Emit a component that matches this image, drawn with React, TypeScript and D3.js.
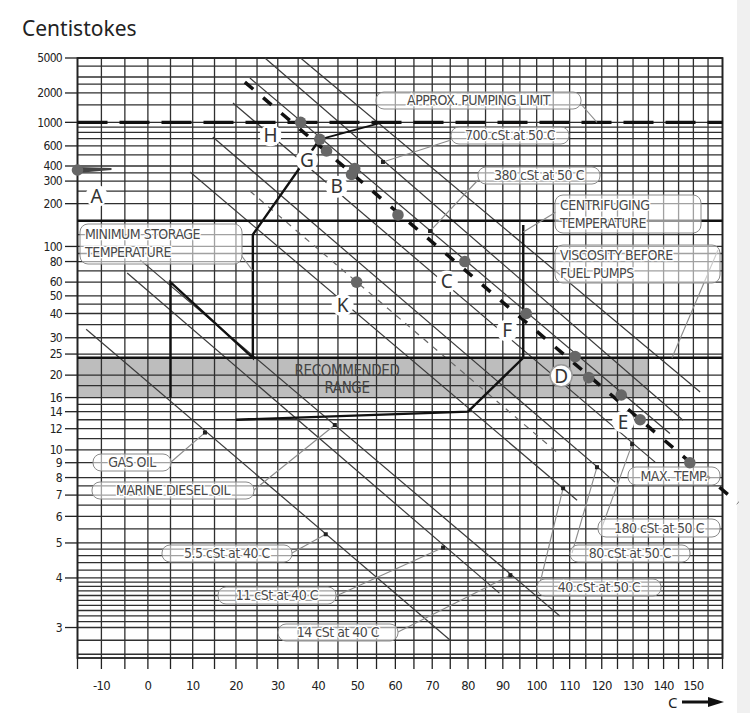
import React, { useRef, useEffect } from "react";
import * as d3 from "d3";

// axis labels
const yTickLabels = [5000, 2000, 1000, 600, 400, 300, 200, 100, 80, 60, 50, 40, 30, 25, 20, 16, 14, 12, 10, 9, 8, 7, 6, 5, 4, 3];
const xTickLabels = [-10, 0, 10, 20, 30, 40, 50, 60, 70, 80, 90, 100, 110, 120, 130, 140, 150];

// grid values (cSt / deg C)
const yGridValues = [
  5000, 4000, 3000, 2500, 2000, 1500, 1000, 900, 800, 700, 600, 500, 400, 350, 300, 250, 200, 150, 120, 100, 90, 80, 70, 60,
  50, 45, 40, 35, 30, 25, 20, 18, 16, 15, 14, 13, 12, 11, 10, 9, 8, 7.5, 7, 6.5, 6, 5.5, 5, 4.8, 4.6, 4.4, 4.2, 4, 3.9, 3.8,
  3.7, 3.6, 3.5, 3.4, 3.3, 3.2, 3.1, 3, 2.8, 2.6,
];
const xGridValues = d3.range(-15, 161, 5);

// fuel reference lines, start / end (T, cSt)
const fuelStartT = [-13.2, -4.5, -1.7, 9.4, 14.6, 19.3, 23.3, 26.9, 35.6];
const fuelStartV = [33.1, 68, 82, 356, 724, 1566, 2920, 5000, 5000];
const fuelEndT = [75, 89, 107, 112.3, 124.2, 137.2, 142.1, 146.5, 152.3];
const fuelEndV = [2.8, 3.65, 3.2, 6.74, 7.72, 9.04, 11.5, 12.95, 16.9];

// line through K
const kLineT = [23.3, 107];
const kLineV = [250, 9.6];

// heavy fuel path (dashed)
const hfoT = [22.1, 165.4];
const hfoV = [2630, 6.6];

// thick process lines
const storageT = [5, 5, 24, 24, 40.4];
const storageV = [16, 60, 24, 120, 690];
const pumpJoinT = [40.4, 56.6];
const pumpJoinV = [690, 1000];
const heatingT = [20, 80, 96, 96];
const heatingV = [13, 14, 24, 140];

const pumpingLimit = 1000;
const centrifugeLevel = 150;
const rangeTop = 24;
const rangeBottom = 16;
const rangeEndT = 135;

// marked points
const pointT = [-15, 35.6, 40.4, 42.1, 49.3, 48.5, 60.7, 79.1, 49.8, 96.9, 111.7, 115.9, 126.2, 132.3, 148.8];
const pointV = [370, 1000, 690, 540, 380, 340, 165, 80, 60, 40, 24.3, 19.5, 16.4, 13, 9];
const pointLetters = ["A", "H", "G", "", "B", "", "", "C", "K", "F", "D", "", "", "E", ""];

// annotation leader targets
const leaderT = [118.5, 56.7, 69.4, 96, 142.8, 24, 12.8, 44.2, 41.9, 73, 92.2, 108, 118.5, 129.7];
const leaderV = [1000, 433, 127, 125, 24, 70, 11.6, 12.4, 5.3, 4.85, 4.07, 7.37, 8.68, 10.5];
const leaderDot = [false, true, true, false, false, false, true, true, true, true, true, true, true, true];

const annotations = [
  { lines: ["APPROX. PUMPING LIMIT"], box: [376, 92, 205, 17], from: [580, 103] },
  { lines: ["700 cSt at 50  C"], box: [451, 127, 118, 17], from: [451, 140] },
  { lines: ["380 cSt at 50  C"], box: [478, 167, 122, 17], from: [478, 180] },
  { lines: ["CENTRIFUGING", "TEMPERATURE"], box: [555, 195, 146, 38], from: [556, 212] },
  { lines: ["VISCOSITY BEFORE", "FUEL PUMPS"], box: [555, 245, 165, 38], from: [718, 250] },
  { lines: ["MINIMUM STORAGE", "TEMPERATURE"], box: [80, 224, 162, 40], from: [241, 255] },
  { lines: ["GAS OIL"], box: [93, 454, 78, 17], from: [171, 462] },
  { lines: ["MARINE DIESEL OIL"], box: [92, 482, 162, 17], from: [254, 490] },
  { lines: ["5.5 cSt at 40  C"], box: [162, 545, 130, 17], from: [292, 553] },
  { lines: ["11 cSt at 40  C"], box: [218, 587, 118, 17], from: [336, 596] },
  { lines: ["14 cSt at 40  C"], box: [278, 624, 120, 17], from: [398, 632] },
  { lines: ["40 cSt at 50  C"], box: [537, 579, 124, 17], from: [540, 583] },
  { lines: ["80 cSt at 50  C"], box: [570, 545, 120, 17], from: [572, 553] },
  { lines: ["180 cSt at 50  C"], box: [598, 519, 122, 18], from: [602, 527] },
  { lines: ["MAX. TEMP."], box: [628, 467, 92, 18], from: null },
];

const letterOffsets = {
  A: [19, 26], H: [-30, 13], G: [-13, 21], B: [-18, 18], C: [-18, 20],
  K: [-14, 23], F: [-19, 17], D: [-14, 19], E: [-17, 2],
};

const narrow = "'Liberation Sans Narrow', 'DejaVu Sans Condensed', 'Liberation Sans', sans-serif";

const ViscosityChart = () => {
  const svgRef = useRef<SVGSVGElement>(null);

  useEffect(() => {
    const w = 750;
    const h = 713;
    const svg = d3.select(svgRef.current).attr("width", w).attr("height", h);
    svg.selectAll("*").remove();

    // ASTM style axes: log(T abs) and log(log(v + 0.8))
    const tf = (t: number) => Math.log10(t + 273.15);
    const vf = (v: number) => Math.log10(Math.log10(v + 0.8));
    const tMin = -15, tMax = 160, vMin = 2.55, vMax = 5000;
    const xs = d3.scaleLinear().domain([tf(tMin), tf(tMax)]).range([77.5, 722.5]);
    const ys = d3.scaleLinear().domain([vf(vMin), vf(vMax)]).range([658, 58]);
    const x = (t: number) => xs(tf(t));
    const y = (v: number) => ys(vf(v));
    const line = d3.line<number[]>().x((d) => x(d[0])).y((d) => y(d[1]));
    const pts = (ts: number[], vs: number[]) => ts.map((t, i) => [t, vs[i]]);

    svg.append("rect").attr("width", w).attr("height", h).attr("fill", "#fff");
    svg.append("rect").attr("x", 737).attr("width", 13).attr("height", h).attr("fill", "#f0f0f0");

    // recommended range band
    svg.append("rect")
      .attr("x", x(tMin)).attr("y", y(rangeTop))
      .attr("width", x(rangeEndT) - x(tMin))
      .attr("height", y(rangeBottom) - y(rangeTop))
      .attr("fill", "#bdbdbd");

    // grid
    const grid = svg.append("g").attr("stroke", "#2f2f2f").attr("stroke-width", 1.3);
    grid.selectAll(".hg").data(yGridValues).join("line").attr("class", "hg")
      .attr("x1", x(tMin)).attr("x2", x(tMax))
      .attr("y1", (d) => y(d)).attr("y2", (d) => y(d));
    grid.selectAll(".vg").data(xGridValues).join("line").attr("class", "vg")
      .attr("x1", (d) => x(d)).attr("x2", (d) => x(d))
      .attr("y1", y(vMax)).attr("y2", y(vMin));
    svg.append("rect")
      .attr("x", x(tMin)).attr("y", y(vMax))
      .attr("width", x(tMax) - x(tMin)).attr("height", y(vMin) - y(vMax))
      .attr("fill", "none").attr("stroke", "#222").attr("stroke-width", 1.8);

    // y axis ticks + labels
    const yAx = svg.append("g");
    yAx.selectAll("line").data(yTickLabels).join("line")
      .attr("x1", 65).attr("x2", x(tMin))
      .attr("y1", (d) => y(d)).attr("y2", (d) => y(d))
      .attr("stroke", "#222").attr("stroke-width", 1.3);
    yAx.selectAll("text").data(yTickLabels).join("text")
      .attr("x", 62).attr("y", (d) => y(d))
      .attr("dy", "0.35em").attr("text-anchor", "end")
      .attr("font-family", narrow).attr("font-size", 12)
      .attr("letter-spacing", -0.7).attr("fill", "#222")
      .text((d) => d);

    // x axis ticks + labels
    const xAx = svg.append("g");
    xAx.selectAll("line").data(xGridValues).join("line")
      .attr("x1", (d) => x(d)).attr("x2", (d) => x(d))
      .attr("y1", y(vMin)).attr("y2", y(vMin) + 11)
      .attr("stroke", "#222").attr("stroke-width", 1.3);
    xAx.selectAll("text").data(xTickLabels).join("text")
      .attr("x", (d) => x(d)).attr("y", 690)
      .attr("text-anchor", "middle")
      .attr("font-family", narrow).attr("font-size", 13)
      .attr("letter-spacing", -0.7).attr("fill", "#222")
      .text((d) => (d < 0 ? "-" + Math.abs(d) : d));

    // fuel lines
    svg.append("g").selectAll("path").data(fuelStartT).join("path")
      .attr("d", (d, i) => line([[fuelStartT[i], fuelStartV[i]], [fuelEndT[i], fuelEndV[i]]]))
      .attr("stroke", "#3a3a3a").attr("stroke-width", 1.2).attr("fill", "none");
    svg.append("path").attr("d", line(pts(kLineT, kLineV)))
      .attr("stroke", "#666").attr("stroke-width", 1.2).attr("stroke-dasharray", "6,6").attr("fill", "none");

    // horizontal process levels
    svg.append("line")
      .attr("x1", x(tMin)).attr("x2", x(tMax))
      .attr("y1", y(pumpingLimit)).attr("y2", y(pumpingLimit))
      .attr("stroke", "#111").attr("stroke-width", 3.2).attr("stroke-dasharray", "30,12");
    [centrifugeLevel, rangeTop].forEach((lv) => {
      svg.append("line")
        .attr("x1", x(tMin)).attr("x2", x(tMax))
        .attr("y1", y(lv)).attr("y2", y(lv))
        .attr("stroke", "#111").attr("stroke-width", 2.4);
    });

    // process polylines
    svg.append("path").attr("d", line(pts(storageT, storageV)))
      .attr("stroke", "#111").attr("stroke-width", 2.4).attr("fill", "none");
    svg.append("path").attr("d", line(pts(pumpJoinT, pumpJoinV)))
      .attr("stroke", "#111").attr("stroke-width", 1.8).attr("fill", "none");
    svg.append("path").attr("d", line(pts(heatingT, heatingV)))
      .attr("stroke", "#111").attr("stroke-width", 2.4).attr("fill", "none");

    // heavy fuel dashed path
    svg.append("path").attr("d", line(pts(hfoT, hfoV)))
      .attr("stroke", "#111").attr("stroke-width", 3.5)
      .attr("stroke-dasharray", "11,13").attr("fill", "none");

    // annotation leaders
    annotations.forEach((a, i) => {
      if (!a.from) return;
      svg.append("line")
        .attr("x1", a.from[0]).attr("y1", a.from[1])
        .attr("x2", x(leaderT[i])).attr("y2", y(leaderV[i]))
        .attr("stroke", "#8a8a8a").attr("stroke-width", 1.1);
      if (leaderDot[i]) {
        svg.append("rect")
          .attr("x", x(leaderT[i]) - 2).attr("y", y(leaderV[i]) - 2)
          .attr("width", 4).attr("height", 4).attr("fill", "#222");
      }
    });

    // annotation boxes
    annotations.forEach((a) => {
      const [bx, by, bw, bh] = a.box;
      svg.append("rect")
        .attr("x", bx).attr("y", by).attr("width", bw).attr("height", bh)
        .attr("rx", 8).attr("fill", "#fff").attr("fill-opacity", 0.55)
        .attr("stroke", "#8a8a8a").attr("stroke-width", 1);
      a.lines.forEach((t, k) => {
        const ty = a.lines.length === 1 ? by + bh / 2 : by + 10 + k * 18;
        svg.append("text")
          .attr("x", a.lines.length === 1 ? bx + bw / 2 : bx + 5)
          .attr("y", ty).attr("dy", "0.35em")
          .attr("text-anchor", a.lines.length === 1 ? "middle" : "start")
          .attr("font-family", narrow).attr("font-size", 14)
          .attr("letter-spacing", -0.5).attr("fill", "#4a4a4a")
          .attr("stroke", "#fff").attr("stroke-width", 2.5).attr("paint-order", "stroke")
          .text(t);
      });
    });

    // recommended range text
    ["RECOMMENDED", "RANGE"].forEach((t, k) => {
      svg.append("text")
        .attr("x", 347).attr("y", y(rangeTop) + 13 + k * 17).attr("dy", "0.35em")
        .attr("text-anchor", "middle").attr("font-family", narrow)
        .attr("font-size", 15).attr("letter-spacing", -0.4).attr("fill", "#444")
        .text(t);
    });

    // letter labels
    pointLetters.forEach((lt, i) => {
      if (!lt) return;
      const off = letterOffsets[lt];
      const cx = x(pointT[i]) + off[0];
      const cy = y(pointV[i]) + off[1];
      svg.append("circle").attr("cx", cx).attr("cy", cy).attr("r", 11)
        .attr("fill", "#fff").attr("stroke", lt === "D" ? "#999" : "none").attr("stroke-width", 1.5);
      svg.append("text").attr("x", cx).attr("y", cy).attr("dy", "0.36em")
        .attr("text-anchor", "middle").attr("font-family", "'Noto Sans', 'Liberation Sans', sans-serif")
        .attr("font-size", 19).attr("fill", "#333").text(lt);
    });

    // pointer on A
    const ax = x(pointT[0]);
    const ay = y(pointV[0]);
    svg.append("path")
      .attr("d", `M${ax},${ay - 3} L${ax + 34},${ay - 2} L${ax + 34},${ay} L${ax},${ay + 3} Z`)
      .attr("fill", "#444");

    // points
    svg.append("g").selectAll("circle").data(pointT).join("circle")
      .attr("cx", (d) => x(d)).attr("cy", (d, i) => y(pointV[i]))
      .attr("r", 5.8).attr("fill", "#676767");

    // title
    svg.append("text").attr("x", 22).attr("y", 36)
      .attr("font-family", "'Noto Sans', 'Liberation Sans', sans-serif")
      .attr("font-size", 21).attr("fill", "#222").text("Centistokes");

    // C arrow
    svg.append("text").attr("x", 668).attr("y", 708)
      .attr("font-family", "'Noto Sans', 'Liberation Sans', sans-serif")
      .attr("font-size", 15).attr("fill", "#222").text("C");
    svg.append("line").attr("x1", 682).attr("x2", 712).attr("y1", 702).attr("y2", 702)
      .attr("stroke", "#111").attr("stroke-width", 3);
    svg.append("path").attr("d", "M708,697 L724,702 L708,707 Z").attr("fill", "#111");
  }, []);

  return (
    <div style={{ position: "absolute", left: 0, top: 0 }}>
      <svg ref={svgRef}></svg>
    </div>
  );
};

export default function App() {
  return <ViscosityChart />;
}
